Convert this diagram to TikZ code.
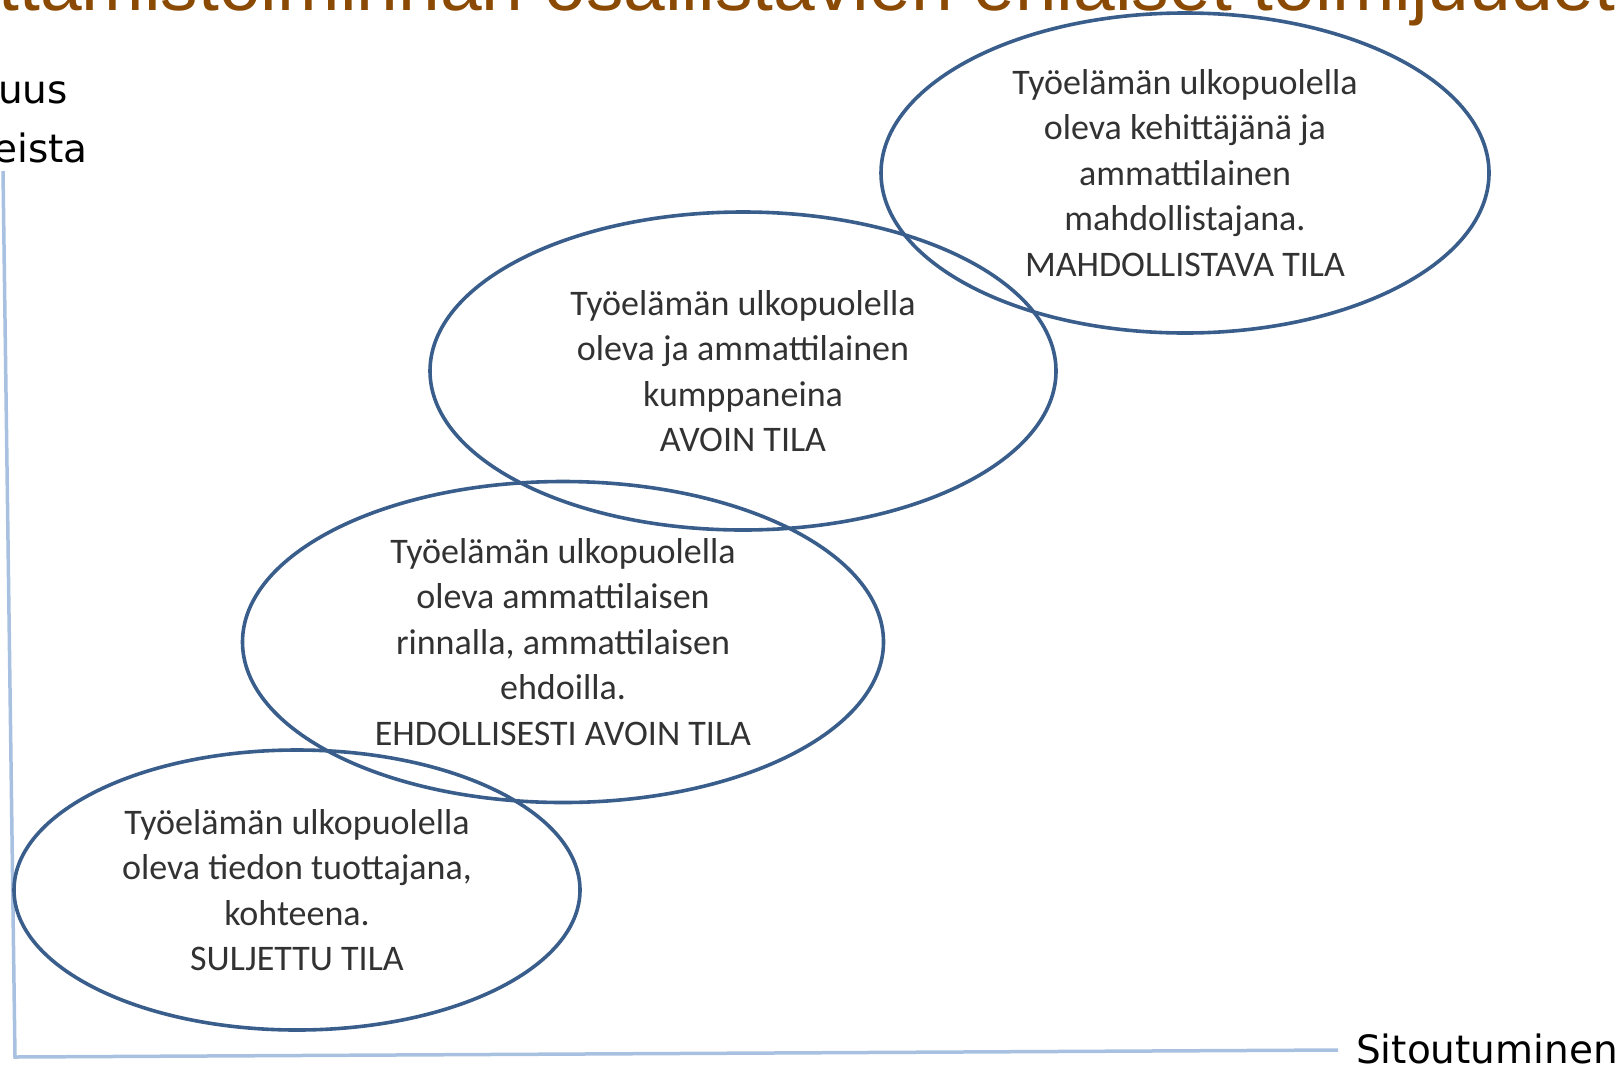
\documentclass[tikz,border=0pt]{standalone}
\usepackage{fontspec}
\setmainfont{Carlito}
\newfontfamily\titlefont{Liberation Sans}
\newfontfamily\axisfont{DejaVu Sans}
\usepackage{tikz}
\usetikzlibrary{shapes.geometric}

\definecolor{ellblue}{RGB}{58,94,140}
\definecolor{axisblue}{RGB}{168,193,224}
\definecolor{titlebrown}{RGB}{139,74,3}
\definecolor{txtgray}{RGB}{50,50,50}

\begin{document}
\begin{tikzpicture}[x=1pt,y=1pt,yscale=-1,xscale=1,
  tila/.style={ellipse,draw=ellblue,line width=3.6,inner sep=0,align=center,
    text=txtgray,font=\fontsize{36}{45.5}\selectfont},
  akseli/.style={draw=axisblue,line width=3.5},
  akseliteksti/.style={font=\axisfont\fontsize{39}{46}\selectfont,text=black,inner sep=0}]
%set diagram left start at 0, and has height of 1066
\useasboundingbox (0,0) rectangle (1624,1066);

%Text Node [title]
\node [anchor=base east,inner sep=0,text=titlebrown,font=\titlefont\fontsize{75}{90}\selectfont] (otsikko) at (1616,10) {ttamistoiminnan osallistavien erilaiset toimijuudet};

%Straight Lines [axes]
\coordinate (ylaraja) at (3,171);
\coordinate (origo) at (15,1057);
\coordinate (oikea) at (1338,1050);
\draw [akseli] (ylaraja) -- (origo) -- (oikea);

%Text Node [axis labels]
\node [akseliteksti,anchor=base east] (ylos1) at (68,103) {uus};
\node [akseliteksti,anchor=base east] (ylos2) at (88,162) {eista};
\node [akseliteksti,anchor=base west] (sitoutuminen) at (1356,1063) {Sitoutuminen};

%Shape: Ellipse [suljettu]
\node [tila,minimum width=566,minimum height=280] (suljettu) at (297,890)
  {Työelämän ulkopuolella\\oleva tiedon tuottajana,\\kohteena.\\SULJETTU TILA};
%Shape: Ellipse [ehdollisesti avoin]
\node [tila,minimum width=641,minimum height=321] (ehdollinen) at (563,642)
  {Työelämän ulkopuolella\\oleva ammattilaisen\\rinnalla, ammattilaisen\\ehdoilla.\\EHDOLLISESTI AVOIN TILA};
%Shape: Ellipse [avoin]
\node [tila,minimum width=626,minimum height=318] (avoin) at (743,371)
  {Työelämän ulkopuolella\\oleva ja ammattilainen\\kumppaneina\\AVOIN TILA};
%Shape: Ellipse [mahdollistava]
\node [tila,minimum width=608,minimum height=320] (mahdollistava) at (1185,173)
  {Työelämän ulkopuolella\\oleva kehittäjänä ja\\ammattilainen\\mahdollistajana.\\MAHDOLLISTAVA TILA};
\end{tikzpicture}
\end{document}
